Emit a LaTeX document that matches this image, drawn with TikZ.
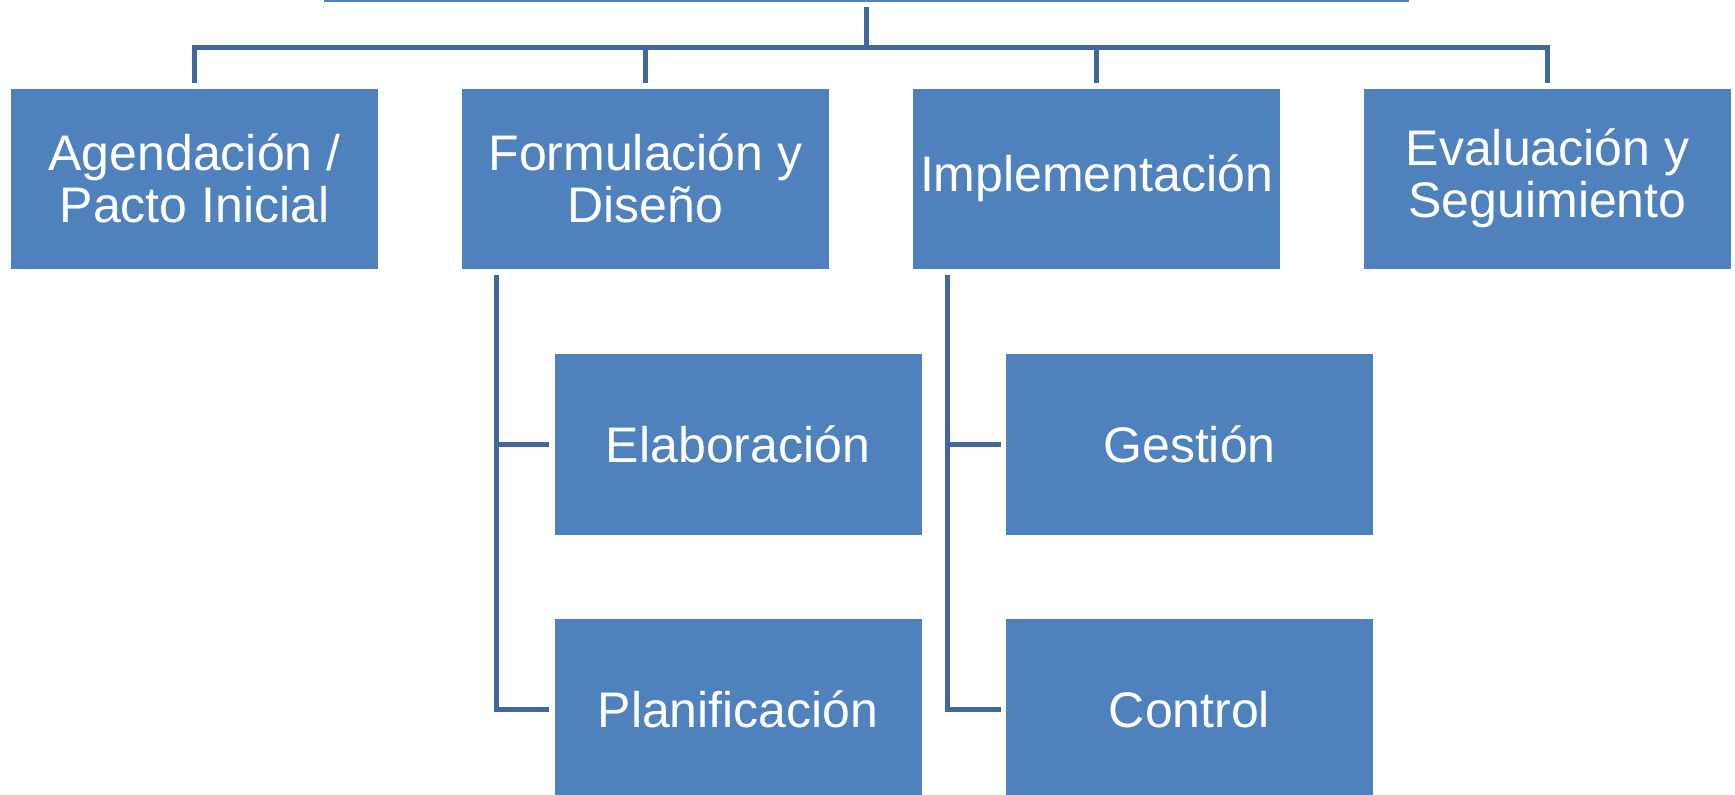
\documentclass[tikz,border=0pt]{standalone}
\usepackage{fontspec}
\setmainfont{Liberation Sans}
\definecolor{boxblue}{HTML}{4F81BD}
\definecolor{linblue}{HTML}{40689A}
\begin{document}
\begin{tikzpicture}[x=1pt,y=-1pt,
  box/.style={rectangle,fill=boxblue,text=white,inner sep=0pt,
    minimum width=367pt,minimum height=180.5pt,align=center,
    font=\fontsize{50}{52}\selectfont},
  conn/.style={draw=linblue,line width=5pt}]
\useasboundingbox (0,0) rectangle (1735,795);
\begin{scope}
\clip (0,0) rectangle (1735,795);
\node[rectangle,fill=boxblue,inner sep=0pt,minimum width=1085pt,minimum height=21.7pt] (root) at (866.5,-9.15) {};
\node[box] (agen) at (194.5,178.75) {Agendación /\\Pacto Inicial};
\node[box] (form) at (645.5,178.75) {Formulación y\\Diseño};
\node[box] (impl) at (1096.5,178.75) {Implementación};
\node[box] (eval) at (1547.5,178.75) {Evaluación y\\Seguimiento};
\node[box] (elab) at (738,444.5) {Elaboración};
\node[box] (plan) at (738,709.5) {Planificación};
\node[box] (gest) at (1189.5,444.5) {Gestión};
\node[box] (ctrl) at (1189.5,709.5) {Control};
\coordinate (hub) at (866.5,47);
\draw[conn] ([yshift=-5.3pt]root.south) -- (hub);
\draw[conn] (hub) -| ([yshift=5.5pt]agen.north);
\draw[conn] (hub) -| ([yshift=5.5pt]form.north);
\draw[conn] (hub) -| ([yshift=5.5pt]impl.north);
\draw[conn] (hub) -| ([yshift=5.5pt]eval.north);
\coordinate (fl) at (496,275);
\coordinate (il) at (947,275);
\draw[conn,shorten >=5pt] (fl) |- (elab.west);
\draw[conn,shorten >=5pt] (fl) |- (plan.west);
\draw[conn,shorten >=5pt] (il) |- (gest.west);
\draw[conn,shorten >=5pt] (il) |- (ctrl.west);
\end{scope}
\end{tikzpicture}
\end{document}
